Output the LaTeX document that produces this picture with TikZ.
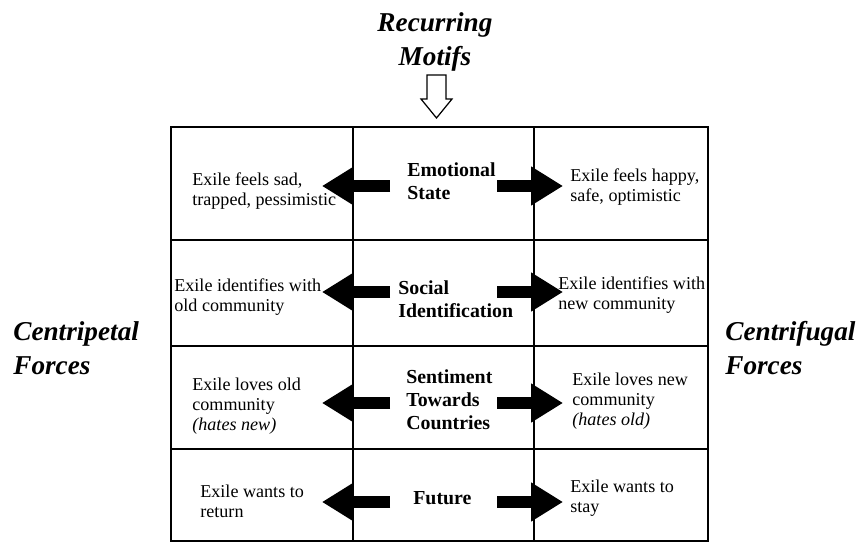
\documentclass[tikz,border=0pt]{standalone}
\usepackage{fontspec}
\setmainfont{Liberation Serif}
\usetikzlibrary{arrows.meta}

\tikzset{
  cell/.style={anchor=west, inner sep=0pt, align=left, font=\fontsize{10.3}{11.5}\selectfont},
  motif/.style={anchor=west, inner sep=0pt, align=left, font=\fontsize{11.3}{13}\selectfont\bfseries},
  force/.style={anchor=west, inner sep=0pt, align=left, font=\fontsize{15.5}{19.5}\selectfont\bfseries\itshape},
  gridline/.style={line width=0.8pt},
  blockarrow/.style={line width=0.24cm, -{Triangle[length=0.64cm,width=0.74cm]}}
}

\begin{document}
\begin{tikzpicture}[x=0.02cm,y=-0.02cm]
\useasboundingbox (0,0) rectangle (863,547);

% grid
\draw[gridline] (171,127) rectangle (708,541);
\foreach \x in {353,534} \draw[gridline] (\x,127) -- (\x,541);
\foreach \y in {240,346,449} \draw[gridline] (171,\y) -- (708,\y);

% top
\node (title)[force, anchor=center, align=center] at (435,42) {Recurring\\Motifs};
\draw[line width=0.7pt, fill=white] (427,75) -- (446,75) -- (446,99) -- (452,99)
  -- (436.5,118) -- (421,99) -- (427,99) -- cycle;

% sides
\node (cpet)[force] at (13,348) {Centripetal\\Forces};
\node (cfug)[force] at (725,348) {Centrifugal\\Forces};

% arrows
\foreach \y [count=\i] in {186,292,403,502}{
  \coordinate (lt\i) at (390,\y);
  \coordinate (lh\i) at (322,\y);
  \coordinate (rt\i) at (497,\y);
  \coordinate (rh\i) at (563,\y);
  \draw[blockarrow] (lt\i) -- (lh\i);
  \draw[blockarrow] (rt\i) -- (rh\i);
}

% motifs
\node (m1)[motif] at (407,181) {Emotional\\State};
\node (m2)[motif] at (398,299) {Social\\Identification};
\node (m3)[motif] at (406,400) {Sentiment\\Towards\\Countries};
\node (m4)[motif] at (413,498) {Future};

% centripetal side
\node (l1)[cell] at (192,191) {Exile feels sad,\\trapped, pessimistic};
\node (l2)[cell] at (174,297) {Exile identifies with\\old community};
\node (l3)[cell] at (192,406) {Exile loves old\\community\\\textit{(hates new)}};
\node (l4)[cell] at (200,501) {Exile wants to\\return};

% centrifugal side
\node (r1)[cell] at (570,187) {Exile feels happy,\\safe, optimistic};
\node (r2)[cell] at (558,295) {Exile identifies with\\new community};
\node (r3)[cell] at (572,401) {Exile loves new\\community\\\textit{(hates old)}};
\node (r4)[cell] at (570,498) {Exile wants to\\stay};

\end{tikzpicture}
\end{document}
